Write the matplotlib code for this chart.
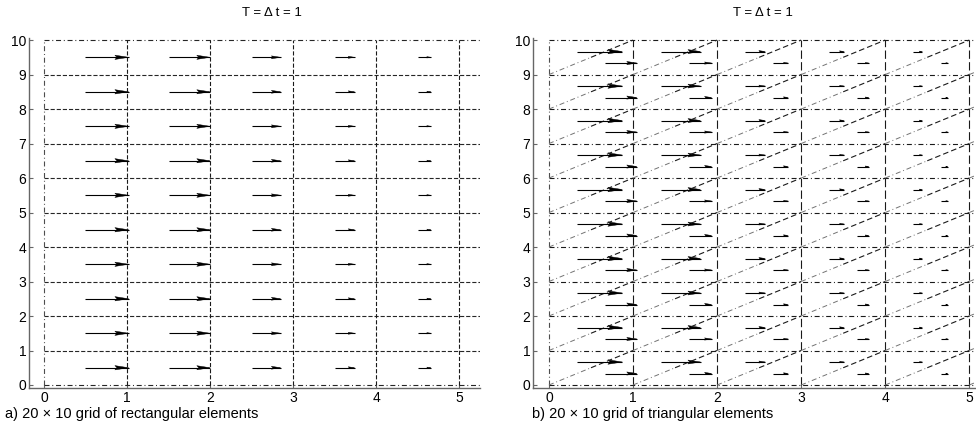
import numpy as np
import matplotlib.pyplot as plt

plt.rcParams['font.family'] = ['Liberation Sans', 'DejaVu Sans']
plt.rcParams['lines.scale_dashes'] = False

# mesh size (elements) and visible arrow lengths per column
nx, ny = 20, 10
cols = [0, 1, 2, 3, 4]
u_rect = [0.52, 0.50, 0.35, 0.24, 0.16]
u_tri_upper = [0.54, 0.47, 0.24, 0.18, 0.11]
u_tri_lower = [0.38, 0.27, 0.18, 0.14, 0.08]
title = 'T = \u0394 t = 1'
captions = ['a) 20 \u00d7 10 grid of rectangular elements',
            'b) 20 \u00d7 10 grid of triangular elements']
xticks = [0, 1, 2, 3, 4, 5]
yticks = list(range(11))

DASH = (3.0, 1.4)
DASHDOT = (3.6, 2.0, 0.7, 2.0)
LONGDASH = (6.0, 2.4)
LC = '0.15'

fig = plt.figure(figsize=(9.76, 4.21), dpi=100)
W, H = 976, 421


def make_axes(x0, x1, y0, y1):
    ax = fig.add_axes([x0 / W, (H - y1) / H, (x1 - x0) / W, (y1 - y0) / H])
    for s in ('top', 'right'):
        ax.spines[s].set_visible(False)
    for s in ('left', 'bottom'):
        ax.spines[s].set_color('0.4')
        ax.spines[s].set_linewidth(1.0)
    ax.set_xticks(xticks)
    ax.set_yticks(yticks)
    ax.tick_params(direction='in', length=3, width=0.8, color='0.4',
                   labelsize=10, pad=2)
    ax.tick_params(axis='x', pad=2.5)
    return ax


def arrow(ax, x, y, L, px_per_x, px_per_y):
    # quiver-like arrow whose head scales with its length
    ax.plot([x, x + L], [y, y], color='k', lw=0.8, solid_capstyle='butt')
    hl = 0.32 * L
    hw = 0.05 * L * px_per_x / px_per_y
    ax.fill([x + L, x + L - hl, x + L - hl * 0.85, x + L - hl],
            [y, y + hw, y, y - hw], color='k', lw=0.3)


def hline(ax, y, dashes, x0=0, x1=nx, lw=0.8, c=LC):
    ax.plot([x0, x1], [y, y], color=c, lw=lw, dashes=dashes)


def vline(ax, x, dashes, y0=0, y1=ny, lw=0.8, c=LC):
    ax.plot([x, x], [y0, y1], color=c, lw=lw, dashes=dashes)


# ---- a) rectangular elements
ax1 = make_axes(29, 480, 38, 388)
ax1.set_xlim(-0.18, 5.25)
ax1.set_ylim(-0.087, 10.06)
for j in range(ny + 1):
    hline(ax1, j, DASHDOT if j in (0, ny) else DASH)
for i in range(nx + 1):
    vline(ax1, i, DASHDOT if i == 0 else DASH, c='0.1' if i else '0.3')
pxx1, pxy1 = 83.0, 34.5
for i, L in zip(cols, u_rect):
    for j in range(ny):
        arrow(ax1, i + 0.5, j + 0.5, L, pxx1, pxy1)

# ---- b) triangular elements
ax2 = make_axes(533, 976, 38, 388)
ax2.set_xlim(-0.19, 5.08)
ax2.set_ylim(-0.087, 10.06)
for j in range(ny + 1):
    hline(ax2, j, DASHDOT, c='0.1')
for i in range(nx + 1):
    vline(ax2, i, DASHDOT if i == 0 else LONGDASH, c='0.1' if i else '0.3')
for i in range(nx):
    for j in range(ny):
        ax2.plot([i, i + 0.5], [j, j + 0.5], color='0.45', lw=0.7,
                 dashes=DASHDOT)
        ax2.plot([i + 0.5, i + 1], [j + 0.5, j + 1], color='0.1', lw=0.8,
                 dashes=(4.0, 2.2))
pxx2, pxy2 = 84.0, 34.5
for i, Lu, Ll in zip(cols, u_tri_upper, u_tri_lower):
    for j in range(ny):
        arrow(ax2, i + 1 / 3, j + 2 / 3, Lu, pxx2, pxy2)
        arrow(ax2, i + 2 / 3, j + 1 / 3, Ll, pxx2, pxy2)

fig.text(272 / W, 1 - 13 / H, title, ha='center', va='center', fontsize=9.5)
fig.text(763 / W, 1 - 13 / H, title, ha='center', va='center', fontsize=9.5)
fig.text(5 / W, 1 - 414 / H, captions[0], ha='left', va='center', fontsize=10.5)
fig.text(532 / W, 1 - 414 / H, captions[1], ha='left', va='center', fontsize=10.5)

fig.savefig('out.png', dpi=100)
